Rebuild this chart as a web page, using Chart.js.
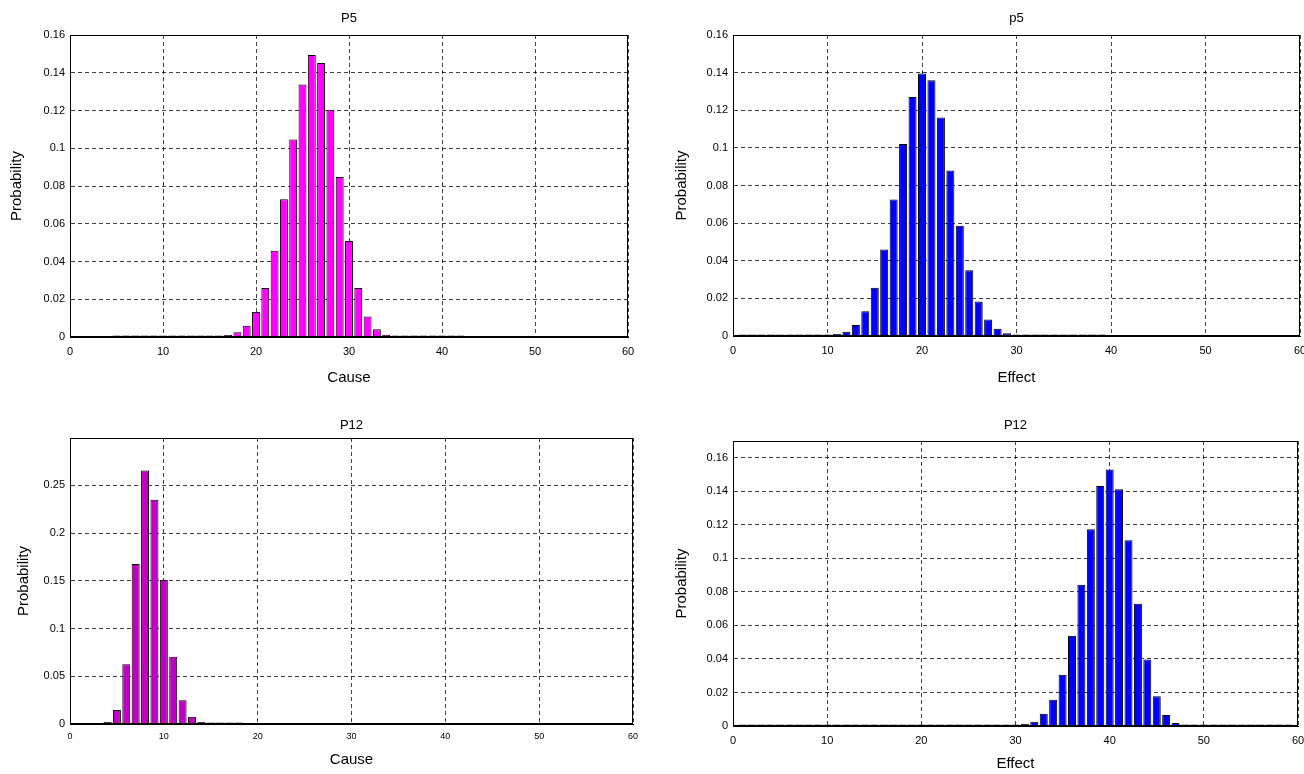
<!DOCTYPE html>
<html><head><meta charset="utf-8">
<script src="https://cdn.jsdelivr.net/npm/chart.js@4/dist/chart.umd.min.js"></script>
<style>
html,body{margin:0;padding:0;background:#fff;overflow:hidden;width:1304px;height:774px;position:relative;}
canvas{position:absolute;}
</style></head><body>
<canvas id="c1" width="660" height="400" style="left:0;top:0"></canvas>
<canvas id="c2" width="668" height="400" style="left:652px;top:0"></canvas>
<canvas id="c3" width="660" height="374" style="left:0;top:400px"></canvas>
<canvas id="c4" width="668" height="374" style="left:652px;top:400px"></canvas>
<script>
// ---- Data ----
const causeP5X = [5,6,7,8,9,10,11,12,13,14,15,16,17,18,19,20,21,22,23,24,25,26,27,28,29,30,31,32,33,34,35,36,37,38,39,40,41,42];
const causeP5Y = [0.0003,0.0003,0.0003,0.0003,0.0003,0.0003,0.0003,0.0003,0.0003,0.0003,0.0003,0.0003,
  0.001,0.0025,0.006,0.0133,0.026,0.0457,0.073,0.1046,0.1338,0.1494,0.1451,0.1204,0.0848,0.0508,0.026,0.0108,0.0041,0.001,
  0.0003,0.0003,0.0003,0.0003,0.0003,0.0003,0.0003,0.0003];

const effectP5X = [1,2,3,4,5,6,7,8,9,10,11,12,13,14,15,16,17,18,19,20,21,22,23,24,25,26,27,28,29,30,31,32,33,34,35,36,37,38,39];
const effectP5Y = [0.0003,0.0003,0.0003,0.0003,0.0003,0.0003,0.0003,0.0003,0.0003,0.0003,
  0.001,0.0023,0.0058,0.0131,0.0257,0.046,0.0726,0.102,0.127,0.1396,0.1359,0.1161,0.088,0.0586,0.0349,0.0184,0.0088,0.0039,0.0014,
  0.0003,0.0003,0.0003,0.0003,0.0003,0.0003,0.0003,0.0003,0.0003,0.0003];

const causeP12X = [4,5,6,7,8,9,10,11,12,13,14,15,16,17,18];
const causeP12Y = [0.002,0.0146,0.0625,0.1677,0.2656,0.235,0.151,0.0705,0.025,0.0076,0.002,0.0008,0.0005,0.0005,0.0005];

const effectP12X = [1,2,3,4,5,6,7,8,9,10,11,12,13,14,15,16,17,18,19,20,21,22,23,24,25,26,27,28,29,30,
  31,32,33,34,35,36,37,38,39,40,41,42,43,44,45,46,47,48,49,50,51,52,53,54,55,56,57,58,59];
const effectP12Y = [0.0003,0.0003,0.0003,0.0003,0.0003,0.0003,0.0003,0.0003,0.0003,0.0003,
  0.0003,0.0003,0.0003,0.0003,0.0003,0.0003,0.0003,0.0003,0.0003,0.0003,
  0.0003,0.0003,0.0003,0.0003,0.0003,0.0003,0.0003,0.0003,0.0003,0.0003,
  0.0012,0.0026,0.0073,0.0157,0.0306,0.0538,0.0842,0.1174,0.1432,0.153,0.1412,0.1108,0.0729,0.0397,0.0177,0.0066,0.0018,
  0.0003,0.0003,0.0003,0.0003,0.0003,0.0003,0.0003,0.0003,0.0003,0.0003,0.0003,0.0003];

const titles = ['P5','p5','P12','P12'];
const xLabels = ['Cause','Effect','Cause','Effect'];
const yLabel = 'Probability';

// ---- Drawing ----
const FONT = "'Liberation Sans', Arial, Helvetica, sans-serif";
const boxPlugin = { id:'box', afterDraw(chart){
  const {ctx, chartArea:a} = chart;
  ctx.save(); ctx.strokeStyle='#000'; ctx.lineWidth=1; ctx.setLineDash([]);
  ctx.strokeRect(Math.round(a.left)+0.5, Math.round(a.top)+0.5, Math.round(a.right-a.left)-1, Math.round(a.bottom-a.top)-1);
  ctx.restore();
}};
const fmt = v => String(+(+v).toFixed(4));

function makeChart(id, cfg){
  const data = cfg.xs.map((x,i)=>({x:x, y:cfg.ys[i]}));
  return new Chart(document.getElementById(id), {
    type:'bar',
    data:{datasets:[{data:data, backgroundColor:cfg.color, borderColor:'#000', borderWidth:1,
      barPercentage:0.85, categoryPercentage:1, borderSkipped:'start', minBarLength:1.5}]},
    options:{
      responsive:false, animation:false,
      layout:{padding:{left:0,right:cfg.padRight,top:0,bottom:0}},
      plugins:{legend:{display:false}, tooltip:{enabled:false},
        title:{display:true, fullSize:false, text:cfg.title, color:'#000',
          font:{family:FONT,size:13,weight:'normal',lineHeight:1.2},
          padding:{top:cfg.titleTop,bottom:cfg.titleBottom}}},
      scales:{
        x:{type:'linear', min:0, max:60, offset:false,
          ticks:{stepSize:10, color:'#000', font:{family:FONT,size:cfg.xTickSize}, padding:cfg.xTickPad, maxRotation:0, autoSkip:false, callback:fmt},
          grid:{color:'rgba(0,0,0,0.75)', drawTicks:false, lineWidth:1, offset:false},
          border:{display:true,color:'#000',width:1,dash:[4,3]},
          title:{display:true, text:cfg.xLabel, color:'#000', font:{family:FONT,size:15,lineHeight:1.2}, padding:{top:0,bottom:cfg.xTitlePad}},
          afterFit(s){ s.height = cfg.xHeight; }},
        y:{min:0, max:cfg.yMax,
          ticks:{stepSize:cfg.yStep, includeBounds:false, color:'#000', font:{family:FONT,size:11}, padding:5, callback:fmt},
          grid:{color:'rgba(0,0,0,0.75)', drawTicks:false, lineWidth:1},
          border:{display:true,color:'#000',width:1,dash:[4,3]},
          title:{display:true, text:yLabel, color:'#000', font:{family:FONT,size:15,lineHeight:1.2}, padding:{top:cfg.yTitlePad,bottom:0}},
          afterFit(s){ s.width = cfg.yWidth; }}
      }
    },
    plugins:[boxPlugin]
  });
}

makeChart('c1',{xs:causeP5X, ys:causeP5Y, color:'#FF00FF', title:titles[0], xLabel:xLabels[0],
  padRight:32, titleTop:11, titleBottom:8.4, xTickSize:11, xTickPad:8, xTitlePad:13, xHeight:63,
  yMax:0.16, yStep:0.02, yTitlePad:8, yWidth:70});
makeChart('c2',{xs:effectP5X, ys:effectP5Y, color:'#0000FF', title:titles[1], xLabel:xLabels[1],
  padRight:20, titleTop:11, titleBottom:8.4, xTickSize:11, xTickPad:8, xTitlePad:13, xHeight:64,
  yMax:0.16, yStep:0.02, yTitlePad:21, yWidth:81});
makeChart('c3',{xs:causeP12X, ys:causeP12Y, color:'#C000C0', title:titles[2], xLabel:xLabels[2],
  padRight:27, titleTop:17.2, titleBottom:5.2, xTickSize:9, xTickPad:7, xTitlePad:5, xHeight:50,
  yMax:0.2996, yStep:0.05, yTitlePad:15, yWidth:70});
makeChart('c4',{xs:effectP12X, ys:effectP12Y, color:'#0000FF', title:titles[3], xLabel:xLabels[3],
  padRight:22, titleTop:17.2, titleBottom:8.2, xTickSize:11, xTickPad:8, xTitlePad:1, xHeight:48,
  yMax:0.17, yStep:0.02, yTitlePad:21, yWidth:81});
</script>
</body></html>
